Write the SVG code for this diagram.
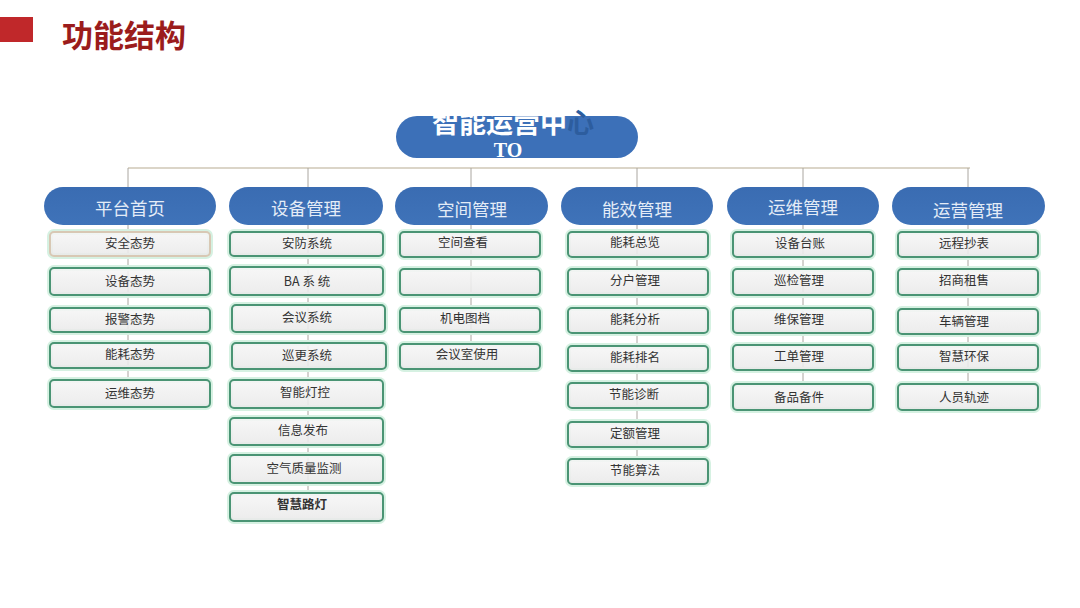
<svg xmlns="http://www.w3.org/2000/svg" width="1080" height="608" viewBox="0 0 1080 608">
<defs>
<linearGradient id="boxg" x1="0" y1="0" x2="0" y2="1">
<stop offset="0" stop-color="#f6f6f6"/>
<stop offset="1" stop-color="#e9e9e9"/>
</linearGradient>
<linearGradient id="headg" x1="0" y1="0" x2="0" y2="1">
<stop offset="0" stop-color="#3a6cb2"/>
<stop offset="1" stop-color="#3f73b9"/>
</linearGradient>
<style>
.glow{fill:none;stroke:#d6f1e2;stroke-width:6}
.box{fill:url(#boxg);fill-opacity:0.88;stroke:#4a9474;stroke-width:2}
.box2{fill:url(#boxg);fill-opacity:0.88;stroke:#d8c8b4;stroke-width:2}
.bt{font-family:"Noto Sans CJK SC","Noto Sans CJK JP",sans-serif;font-size:12.5px;fill:#333;text-anchor:middle}
.head{fill:url(#headg)}
.ht{font-family:"Noto Sans CJK SC",sans-serif;font-size:17.5px;fill:#e4ecf7;text-anchor:middle}
.ln{stroke:#aaa6a0;stroke-width:1;fill:none}
.hl{stroke:#cfc7b6;stroke-width:1.5;fill:none}
</style>
</defs>
<rect width="1080" height="608" fill="#ffffff"/>
<g id="title">
<rect x="0" y="17" width="33" height="25" fill="#c0282a"/>
<text x="62" y="47" font-family="Noto Sans CJK SC,sans-serif" font-size="31" font-weight="bold" fill="#9b1c1c">功能结构</text>
</g>
<g id="connectors">
<path class="hl" d="M128 168 H970"/>
<path class="ln" d="M128 168 V382"/>
<path class="ln" d="M308 168 V495"/>
<path class="ln" d="M471 168 V346"/>
<path class="ln" d="M637 168 V461"/>
<path class="ln" d="M803 168 V386"/>
<path class="ln" d="M968 168 V386"/>
</g>
<g id="root">
<rect x="396" y="116" width="242" height="42" rx="21" fill="#3c70b8"/>
<text x="513" y="133" font-family="Noto Sans CJK SC,sans-serif" font-size="27" font-weight="bold" fill="#ffffff" text-anchor="middle">智能运营中<tspan fill="#2d5d9e">心</tspan></text>
<text x="508" y="157" font-family="Liberation Serif,serif" font-size="20" font-weight="bold" fill="#ffffff" text-anchor="middle">TO</text>
</g>
<g id="h1"><rect class="head" x="44" y="187" width="172" height="38" rx="19"/><text class="ht" x="130" y="215">平台首页</text></g>
<g id="h2"><rect class="head" x="229" y="187" width="154" height="38" rx="19"/><text class="ht" x="306" y="215">设备管理</text></g>
<g id="h3"><rect class="head" x="395" y="187" width="153" height="38" rx="19"/><text class="ht" x="472" y="216">空间管理</text></g>
<g id="h4"><rect class="head" x="561" y="187" width="152" height="38" rx="19"/><text class="ht" x="637" y="216">能效管理</text></g>
<g id="h5"><rect class="head" x="727" y="187" width="152" height="38" rx="19"/><text class="ht" x="803" y="214">运维管理</text></g>
<g id="h6"><rect class="head" x="892" y="187" width="153" height="38" rx="19"/><text class="ht" x="968" y="217">运营管理</text></g>

<g id="c1a"><rect class="glow" x="50" y="232" width="160" height="24" rx="4"/><rect class="box2" x="50" y="232" width="160" height="24" rx="4"/><text class="bt" x="130" y="248">安全态势</text></g>
<g id="c1b"><rect class="glow" x="50" y="268" width="160" height="27" rx="4"/><rect class="box" x="50" y="268" width="160" height="27" rx="4"/><text class="bt" x="130" y="286">设备态势</text></g>
<g id="c1c"><rect class="glow" x="50" y="308" width="160" height="24" rx="4"/><rect class="box" x="50" y="308" width="160" height="24" rx="4"/><text class="bt" x="130" y="324">报警态势</text></g>
<g id="c1d"><rect class="glow" x="50" y="343" width="160" height="25" rx="4"/><rect class="box" x="50" y="343" width="160" height="25" rx="4"/><text class="bt" x="130" y="359">能耗态势</text></g>
<g id="c1e"><rect class="glow" x="50" y="380" width="160" height="27" rx="4"/><rect class="box" x="50" y="380" width="160" height="27" rx="4"/><text class="bt" x="130" y="398">运维态势</text></g>

<g id="c2a"><rect class="glow" x="230" y="232" width="153" height="24" rx="4"/><rect class="box" x="230" y="232" width="153" height="24" rx="4"/><text class="bt" x="307" y="248">安防系统</text></g>
<g id="c2b"><rect class="glow" x="230" y="267" width="153" height="28" rx="4"/><rect class="box" x="230" y="267" width="153" height="28" rx="4"/><text class="bt" x="307" y="286" font-size="11.5px">BA 系 统</text></g>
<g id="c2c"><rect class="glow" x="232" y="305" width="153" height="27" rx="4"/><rect class="box" x="232" y="305" width="153" height="27" rx="4"/><text class="bt" x="307" y="322">会议系统</text></g>
<g id="c2d"><rect class="glow" x="232" y="343" width="154" height="26" rx="4"/><rect class="box" x="232" y="343" width="154" height="26" rx="4"/><text class="bt" x="307" y="360">巡更系统</text></g>
<g id="c2e"><rect class="glow" x="230" y="380" width="153" height="28" rx="4"/><rect class="box" x="230" y="380" width="153" height="28" rx="4"/><text class="bt" x="305" y="397">智能灯控</text></g>
<g id="c2f"><rect class="glow" x="230" y="418" width="153" height="27" rx="4"/><rect class="box" x="230" y="418" width="153" height="27" rx="4"/><text class="bt" x="303" y="435">信息发布</text></g>
<g id="c2g"><rect class="glow" x="230" y="455" width="153" height="28" rx="4"/><rect class="box" x="230" y="455" width="153" height="28" rx="4"/><text class="bt" x="304" y="473">空气质量监测</text></g>
<g id="c2h"><rect class="glow" x="230" y="493" width="153" height="28" rx="4"/><rect class="box" x="230" y="493" width="153" height="28" rx="4"/><text class="bt" x="302" y="509" font-weight="bold" fill="#222">智慧路灯</text></g>

<g id="c3a"><rect class="glow" x="400" y="232" width="140" height="25" rx="4"/><rect class="box" x="400" y="232" width="140" height="25" rx="4"/><text class="bt" x="463" y="247">空间查看</text></g>
<g id="c3b"><rect class="glow" x="400" y="269" width="140" height="26" rx="4"/><rect class="box" x="400" y="269" width="140" height="26" rx="4"/></g>
<g id="c3c"><rect class="glow" x="400" y="308" width="140" height="24" rx="4"/><rect class="box" x="400" y="308" width="140" height="24" rx="4"/><text class="bt" x="465" y="323">机电图档</text></g>
<g id="c3d"><rect class="glow" x="400" y="344" width="140" height="25" rx="4"/><rect class="box" x="400" y="344" width="140" height="25" rx="4"/><text class="bt" x="467" y="359">会议室使用</text></g>

<g id="c4a"><rect class="glow" x="568" y="232" width="140" height="25" rx="4"/><rect class="box" x="568" y="232" width="140" height="25" rx="4"/><text class="bt" x="635" y="247">能耗总览</text></g>
<g id="c4b"><rect class="glow" x="568" y="269" width="140" height="26" rx="4"/><rect class="box" x="568" y="269" width="140" height="26" rx="4"/><text class="bt" x="635" y="285">分户管理</text></g>
<g id="c4c"><rect class="glow" x="568" y="308" width="140" height="25" rx="4"/><rect class="box" x="568" y="308" width="140" height="25" rx="4"/><text class="bt" x="635" y="324">能耗分析</text></g>
<g id="c4d"><rect class="glow" x="568" y="346" width="140" height="25" rx="4"/><rect class="box" x="568" y="346" width="140" height="25" rx="4"/><text class="bt" x="635" y="362">能耗排名</text></g>
<g id="c4e"><rect class="glow" x="568" y="383" width="140" height="25" rx="4"/><rect class="box" x="568" y="383" width="140" height="25" rx="4"/><text class="bt" x="634" y="399">节能诊断</text></g>
<g id="c4f"><rect class="glow" x="568" y="422" width="140" height="25" rx="4"/><rect class="box" x="568" y="422" width="140" height="25" rx="4"/><text class="bt" x="635" y="438">定额管理</text></g>
<g id="c4g"><rect class="glow" x="568" y="459" width="140" height="25" rx="4"/><rect class="box" x="568" y="459" width="140" height="25" rx="4"/><text class="bt" x="635" y="475">节能算法</text></g>

<g id="c5a"><rect class="glow" x="733" y="232" width="140" height="25" rx="4"/><rect class="box" x="733" y="232" width="140" height="25" rx="4"/><text class="bt" x="800" y="248">设备台账</text></g>
<g id="c5b"><rect class="glow" x="733" y="269" width="140" height="26" rx="4"/><rect class="box" x="733" y="269" width="140" height="26" rx="4"/><text class="bt" x="799" y="285">巡检管理</text></g>
<g id="c5c"><rect class="glow" x="733" y="308" width="140" height="25" rx="4"/><rect class="box" x="733" y="308" width="140" height="25" rx="4"/><text class="bt" x="799" y="324">维保管理</text></g>
<g id="c5d"><rect class="glow" x="733" y="345" width="140" height="25" rx="4"/><rect class="box" x="733" y="345" width="140" height="25" rx="4"/><text class="bt" x="799" y="361">工单管理</text></g>
<g id="c5e"><rect class="glow" x="733" y="384" width="140" height="26" rx="4"/><rect class="box" x="733" y="384" width="140" height="26" rx="4"/><text class="bt" x="799" y="402">备品备件</text></g>

<g id="c6a"><rect class="glow" x="898" y="232" width="140" height="25" rx="4"/><rect class="box" x="898" y="232" width="140" height="25" rx="4"/><text class="bt" x="964" y="248">远程抄表</text></g>
<g id="c6b"><rect class="glow" x="898" y="269" width="140" height="26" rx="4"/><rect class="box" x="898" y="269" width="140" height="26" rx="4"/><text class="bt" x="964" y="285">招商租售</text></g>
<g id="c6c"><rect class="glow" x="898" y="309" width="140" height="25" rx="4"/><rect class="box" x="898" y="309" width="140" height="25" rx="4"/><text class="bt" x="964" y="326">车辆管理</text></g>
<g id="c6d"><rect class="glow" x="898" y="345" width="140" height="25" rx="4"/><rect class="box" x="898" y="345" width="140" height="25" rx="4"/><text class="bt" x="964" y="361">智慧环保</text></g>
<g id="c6e"><rect class="glow" x="898" y="384" width="140" height="26" rx="4"/><rect class="box" x="898" y="384" width="140" height="26" rx="4"/><text class="bt" x="964" y="402">人员轨迹</text></g>
</svg>
